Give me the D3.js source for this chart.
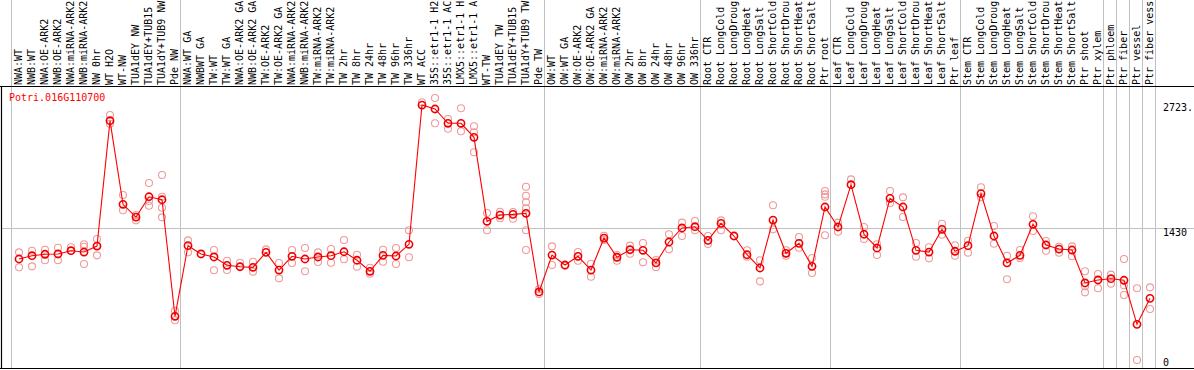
<!DOCTYPE html>
<html>
<head>
<meta charset="utf-8">
<script src="https://cdn.jsdelivr.net/npm/d3@7"></script>
<style>
  html, body { margin: 0; padding: 0; background: #fff; }
  svg { display: block; }
  text { font-family: "DejaVu Sans Mono", monospace; font-size: 10px; }
</style>
</head>
<body>
<svg id="chart" width="1194" height="370"></svg>
<script>
const geneName = "Potri.016G110700";

const categories = [
  "NWA:WT","NWB:WT","NWA:OE-ARK2","NWB:OE-ARK2","NWA:miRNA-ARK2","NWB:miRNA-ARK2","NW 0hr","WT H2O","WT-NW",
  "TUA1dEY NW","TUA1dEY+TUB15","TUA1dY+TUB9 NW","Pde NW",
  "NWA:WT GA","NWBWT GA","TW:WT","TW:WT GA","NWA:OE-ARK2 GA","NWB:OE-ARK2 GA","TW:OE-ARK2","TW:OE-ARK2 GA",
  "NWA:miRNA-ARK2","NWB:miRNA-ARK2","TW:miRNA-ARK2","TW:miRNA-ARK2","TW 2hr","TW 8hr","TW 24hr","TW 48hr","TW 96hr","TW 336hr",
  "WT ACC","35S::etr1-1 H2","35S::etr1-1 AC","LMX5::etr1-1 H","LMX5::etr1-1 A","WT-TW","TUA1dEY TW","TUA1dEY+TUB15","TUA1dY+TUB9 TW","Pde TW",
  "OW:WT","OW:WT GA","OW:OE-ARK2","OW:OE-ARK2 GA","OW:miRNA-ARK2","OW:miRNA-ARK2","OW 2hr","OW 8hr","OW 24hr","OW 48hr","OW 96hr","OW 336hr",
  "Root CTR","Root LongCold","Root LongDroug","Root LongHeat","Root LongSalt","Root ShortCold","Root ShortDrou","Root ShortHeat","Root ShortSalt","Ptr root",
  "Leaf CTR","Leaf LongCold","Leaf LongDroug","Leaf LongHeat","Leaf LongSalt","Leaf ShortCold","Leaf ShortDrou","Leaf ShortHeat","Leaf ShortSalt","Ptr leaf",
  "Stem CTR","Stem LongCold","Stem LongDroug","Stem LongHeat","Stem LongSalt","Stem ShortCold","Stem ShortDrou","Stem ShortHeat","Stem ShortSalt","Ptr shoot","Ptr xylem",
  "Ptr phloem","Ptr fiber","Ptr vessel","Ptr fiber vess"
];

// indices where a new group starts (vertical separators)
const groupStarts = [0, 13, 41, 53, 63, 73, 84, 85, 86, 87];

const meanValues = [
  1109,1143,1158,1161,1195,1181,1243,2540,1675,1543,1753,1722,516,
  1247,1161,1130,1044,1029,1023,1178,995,1137,1109,1130,1143,1184,1096,982,1147,1140,1261,
  2702,2661,2513,2513,2368,1499,1564,1571,1582,768,
  1150,1047,1137,995,1326,1127,1205,1199,1068,1285,1430,1443,
  1302,1478,1347,1153,1016,1512,1168,1271,1033,1647,
  1440,1878,1365,1223,1737,1647,1199,1181,1416,1189,
  1247,1785,1347,1068,1147,1468,1254,1212,1202,861,892,
  905,889,433,702
];

const replicateValues = [
  [1178,1023],[1195,1033],[1205,1096],[1226,1096],[1230,1195],[1261,1236,1057],[1316,1243,1147],
  [2599,2509],[1771,1613],[1509,1564],[1895,1709,1660],[1978,1753,1640,1540],[574,475],
  [1302,1178],[],[1202,992],[1091,995],[1071,1029],[1081,978],[1209],[1068,909],[1202,1068],
  [1223,982],[1178,1078],[1212,1071],[1306,1106],[1153,1029],[1019,957],[1205,1081],[1223,1057],[1406,1127],
  [2730],[2775,2513],[2557,2457],[2668,2430],[2482,2420,2213],[1585,1406],[1598,1530],[1595,1526],
  [1857,1764,1696,1633,1406,1202],[796,747],
  [1240,1047],[1040],[1181,1091],[1060,926],[1350,1306],[1150,1091],[1247,1164],[1274,1075],[1099,1023],
  [1365,1209],[1485,1347],[1502,1406],
  [1347,1264],[1509,1406],[1347],[1199,1133],[1096,878],[1665,1416],[1199,1143],[1337,1226],[1119,964],
  [1812,1778,1753,1354],
  [1485,1391],[1933],[1440,1316],[1261,1150],[1812,1688],[1747,1543],[1274,1133],[1230,1116],[1474,1360],[1251,1143],
  [1298,1174],[1851,1747],[1450,1267],[1143,899],[1202,1119],[1551,1399],[1295,1195],[1236,1174],[1240,1137],
  [982,827,764],[954,806],
  [947,853],[1109,837,737],[806,64],[816,592]
];

const yTicks = [2723, 1430, 0];
const yTickLabels = ["2723.", "1430", "0"];

const W = 1194, H = 370;
const headerBottom = 86, plotBottom = 368.5;
const svg = d3.select("#chart");

const x = d3.scaleBand().domain(d3.range(categories.length)).range([11, 1155]).padding(0);
const bw = x.bandwidth();
const cx = i => x(i) + bw / 2 + 1.5;
const y = d3.scaleLinear().domain([0, 2723]).range([366.2, 103]);

// vertical group separators
const sepX = groupStarts.map(i => x(i)).concat([x(categories.length - 1) + bw]);
svg.append("g").selectAll("line").data(sepX).join("line")
  .attr("x1", d => Math.round(d) + 0.5).attr("x2", d => Math.round(d) + 0.5)
  .attr("y1", 0).attr("y2", plotBottom)
  .attr("stroke", "#c0c0c0").attr("stroke-width", 1);

// horizontal gridline at middle tick
svg.append("line")
  .attr("x1", 2).attr("x2", W)
  .attr("y1", Math.round(y(yTicks[1])) + 0.5).attr("y2", Math.round(y(yTicks[1])) + 0.5)
  .attr("stroke", "#c0c0c0").attr("stroke-width", 1);

// header labels (rotated)
svg.append("g").selectAll("text").data(categories).join("text")
  .attr("transform", (d, i) => `translate(${x(i) + bw / 2 + 4},${headerBottom - 1}) rotate(-90)`)
  .attr("fill", "#000")
  .text(d => d);

// borders
svg.append("line").attr("x1", 0).attr("x2", W).attr("y1", headerBottom + 0.5).attr("y2", headerBottom + 0.5)
  .attr("stroke", "#000").attr("stroke-width", 1);
svg.append("line").attr("x1", 1.5).attr("x2", 1.5).attr("y1", headerBottom).attr("y2", plotBottom + 0.5)
  .attr("stroke", "#000").attr("stroke-width", 1.2);
svg.append("line").attr("x1", 0).attr("x2", W).attr("y1", plotBottom).attr("y2", plotBottom)
  .attr("stroke", "#000").attr("stroke-width", 1.2);

// title
svg.append("text").attr("x", 9).attr("y", 101).attr("fill", "#ff0000").text(geneName);

// y tick labels on the right
svg.append("g").selectAll("text").data(yTicks).join("text")
  .attr("x", 1163)
  .attr("y", d => Math.min(y(d) + 8, 366))
  .attr("fill", "#000")
  .text((d, i) => yTickLabels[i]);

// replicate circles
const reps = [];
replicateValues.forEach((arr, i) => arr.forEach(v => reps.push({ i, v })));
svg.append("g").selectAll("circle").data(reps).join("circle")
  .attr("cx", d => cx(d.i)).attr("cy", d => y(d.v)).attr("r", 3.5)
  .attr("fill", "none").attr("stroke", "#f09a9a").attr("stroke-width", 1.1);

// mean line
const line = d3.line().x((d, i) => cx(i)).y(d => y(d));
svg.append("path").datum(meanValues).attr("d", line)
  .attr("fill", "none").attr("stroke", "#ff0000").attr("stroke-width", 1.1);

// mean circles
svg.append("g").selectAll("circle").data(meanValues).join("circle")
  .attr("cx", (d, i) => cx(i)).attr("cy", d => y(d)).attr("r", 3.6)
  .attr("fill", "none").attr("stroke", "#ee0000").attr("stroke-width", 1.6);
</script>
</body>
</html>
